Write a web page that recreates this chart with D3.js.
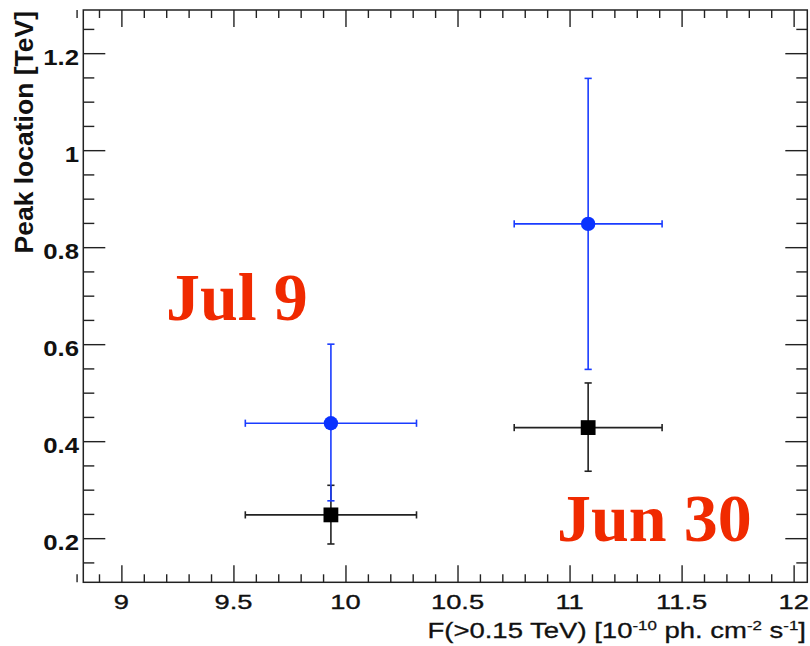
<!DOCTYPE html>
<html><head><meta charset="utf-8">
<script src="https://cdn.jsdelivr.net/npm/d3@7"></script>
<style>html,body{margin:0;padding:0;background:#fff;}svg{display:block;}</style>
</head><body>
<script>
// ---- data ----
const flux      = [9.935, 11.083];   // F(>0.15 TeV) [1e-10 ph cm^-2 s^-1]
const fluxErr   = [0.382, 0.330];
const peakBlue  = [0.437, 0.848];
const blueLo    = [0.160, 0.300];
const blueHi    = [0.163, 0.300];
const peakBlack = [0.248, 0.428];
const blackLo   = [0.060, 0.090];
const blackHi   = [0.061, 0.092];
const xTicks = [9, 9.5, 10, 10.5, 11, 11.5, 12];
const xTickLabels = ["9", "9.5", "10", "10.5", "11", "11.5", "12"];
const yTicks = [0.2, 0.4, 0.6, 0.8, 1.0, 1.2];
const yTickLabels = ["0.2", "0.4", "0.6", "0.8", "1", "1.2"];
const annotations = ["Jul 9", "Jun 30"];

const W = 810, H = 646;
const L = 83.3, R = 807.3, T = 10, B = 582.3;
const svg = d3.select("body").append("svg").attr("width", W).attr("height", H);

const x = d3.scaleLinear().domain([8.83, 12.061]).range([L, R]);
const y = d3.scaleLinear().domain([0.109, 1.289]).range([B, T]);

const frameColor = "#222";
// minor ticks
const xMinor = d3.range(88, 121).map(d => d / 10).filter(v => Math.abs(v*2 - Math.round(v*2)) > 1e-6);
const yMinor = d3.range(3, 26).map(d => d / 20).filter(v => Math.abs(v*5 - Math.round(v*5)) > 1e-6);

const g = svg.append("g");
function styleAxis(sel){ sel.select(".domain").remove(); sel.selectAll("line").attr("stroke", frameColor).attr("stroke-width", 1.4); sel.selectAll("text").remove(); }
g.append("g").attr("transform", `translate(0,${B})`).call(d3.axisBottom(x).tickValues(xTicks).tickSize(-17)).call(styleAxis);
g.append("g").attr("transform", `translate(0,${B})`).call(d3.axisBottom(x).tickValues(xMinor).tickSize(-8)).call(styleAxis);
g.append("g").attr("transform", `translate(0,${T})`).call(d3.axisTop(x).tickValues(xTicks).tickSize(-17)).call(styleAxis);
g.append("g").attr("transform", `translate(0,${T})`).call(d3.axisTop(x).tickValues(xMinor).tickSize(-8)).call(styleAxis);
g.append("g").attr("transform", `translate(${L},0)`).call(d3.axisLeft(y).tickValues(yTicks).tickSize(-22)).call(styleAxis);
g.append("g").attr("transform", `translate(${L},0)`).call(d3.axisLeft(y).tickValues(yMinor).tickSize(-11)).call(styleAxis);
g.append("g").attr("transform", `translate(${R},0)`).call(d3.axisRight(y).tickValues(yTicks).tickSize(-22)).call(styleAxis);
g.append("g").attr("transform", `translate(${R},0)`).call(d3.axisRight(y).tickValues(yMinor).tickSize(-11)).call(styleAxis);

svg.append("rect").attr("x", L).attr("y", T).attr("width", R - L).attr("height", B - T)
  .attr("fill", "none").attr("stroke", frameColor).attr("stroke-width", 1.5);

// tick labels
const font = "'Liberation Sans', Arial, Helvetica, sans-serif";
svg.append("g").selectAll("text").data(xTicks).join("text")
  .attr("transform", d => `translate(${x(d)},609) scale(1.3,1)`)
  .attr("text-anchor", "middle").attr("font-family", font)
  .attr("font-size", 21).attr("fill", "#111").attr("stroke", "#111").attr("stroke-width", 0.35)
  .text((d, i) => xTickLabels[i]);
svg.append("g").selectAll("text").data(yTicks).join("text")
  .attr("transform", d => `translate(79,${y(d) + 12}) scale(1.12,1)`)
  .attr("text-anchor", "end").attr("font-family", font).attr("font-weight", "bold")
  .attr("font-size", 23).attr("fill", "#111").text((d, i) => yTickLabels[i]);

// axis titles
const xt = svg.append("text").attr("transform", "translate(806,638) scale(1.25,1)").attr("text-anchor", "end")
  .attr("font-family", font).attr("font-size", 22).attr("fill", "#111").attr("stroke", "#111").attr("stroke-width", 0.3);
xt.append("tspan").text("F(>0.15 TeV) [10");
xt.append("tspan").attr("dy", -8).attr("font-size", 13.5).text("-10");
xt.append("tspan").attr("dy", 8).text(" ph. cm");
xt.append("tspan").attr("dy", -8).attr("font-size", 13.5).text("-2");
xt.append("tspan").attr("dy", 8).text(" s");
xt.append("tspan").attr("dy", -8).attr("font-size", 13.5).text("-1");
xt.append("tspan").attr("dy", 8).text("]");

svg.append("text").attr("transform", "translate(33,11) rotate(-90)").attr("text-anchor", "end")
  .attr("font-family", font).attr("font-weight", "bold").attr("font-size", 26.5).attr("fill", "#111")
  .text("Peak location [TeV]");

// error bars + markers
function series(vals, lo, hi, color, lw){
  const s = svg.append("g");
  const cap = 3.6;
  flux.forEach((fx, i) => {
    const cx = x(fx), cy = y(vals[i]);
    s.append("line").attr("x1", x(fx - fluxErr[i])).attr("x2", x(fx + fluxErr[i])).attr("y1", cy).attr("y2", cy).attr("stroke", color).attr("stroke-width", lw);
    [fx - fluxErr[i], fx + fluxErr[i]].forEach(v => s.append("line").attr("x1", x(v)).attr("x2", x(v)).attr("y1", cy - cap).attr("y2", cy + cap).attr("stroke", color).attr("stroke-width", lw));
    s.append("line").attr("x1", cx).attr("x2", cx).attr("y1", y(vals[i] - lo[i])).attr("y2", y(vals[i] + hi[i])).attr("stroke", color).attr("stroke-width", lw);
    [vals[i] - lo[i], vals[i] + hi[i]].forEach(v => s.append("line").attr("x1", cx - cap).attr("x2", cx + cap).attr("y1", y(v)).attr("y2", y(v)).attr("stroke", color).attr("stroke-width", lw));
  });
  return s;
}
const sBlack = series(peakBlack, blackLo, blackHi, "#222", 1.6);
const sBlue = series(peakBlue, blueLo, blueHi, "#1a3cff", 1.6);
sBlack.selectAll("rect.m").data(flux).join("rect").attr("class", "m")
  .attr("x", (d) => x(d) - 7.4).attr("y", (d, i) => y(peakBlack[i]) - 7.4)
  .attr("width", 14.8).attr("height", 14.8).attr("fill", "#000");
sBlue.selectAll("circle").data(flux).join("circle")
  .attr("cx", d => x(d)).attr("cy", (d, i) => y(peakBlue[i])).attr("r", 7.2).attr("fill", "#0a32ff");

// annotations
const serif = "'Liberation Serif', 'Times New Roman', serif";
svg.append("text").attr("x", 166).attr("y", 320).attr("font-family", serif).attr("font-weight", "bold")
  .attr("font-size", 68).attr("fill", "#f02a00").text(annotations[0]);
svg.append("text").attr("x", 557).attr("y", 541).attr("font-family", serif).attr("font-weight", "bold")
  .attr("font-size", 68).attr("fill", "#f02a00").text(annotations[1]);
</script>
</body></html>
